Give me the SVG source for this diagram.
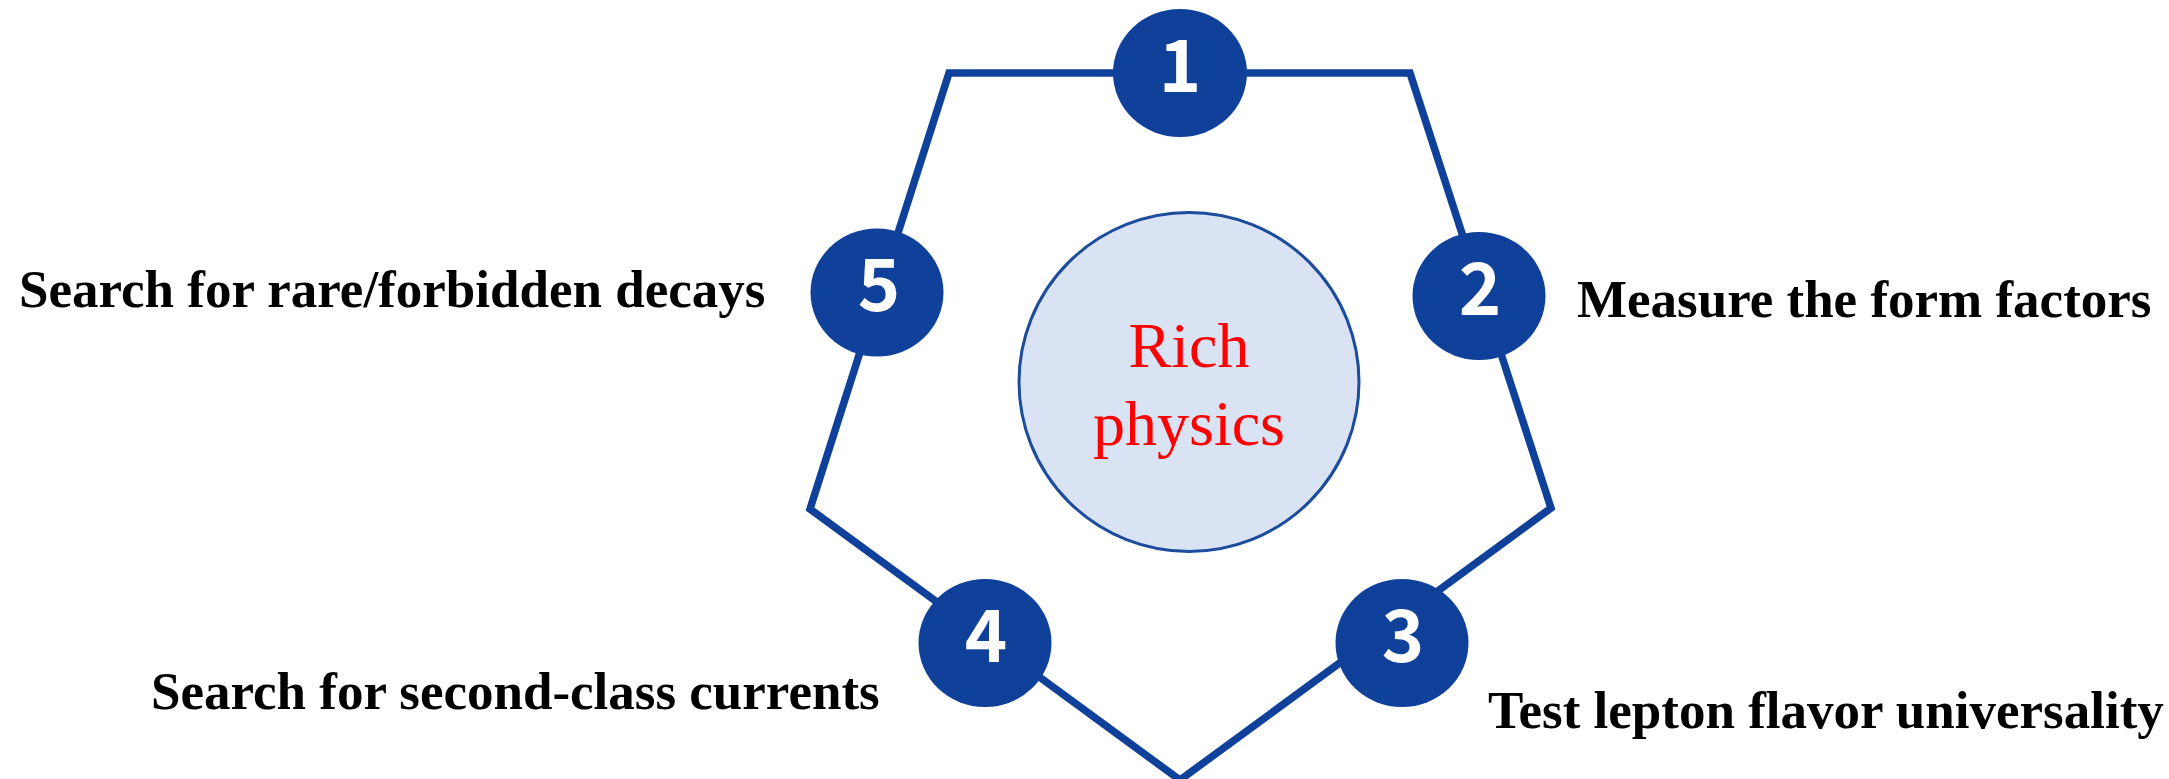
<svg xmlns="http://www.w3.org/2000/svg" width="2169" height="779" viewBox="0 0 2169 779">
  <style>
    .edge { fill: none; stroke: #10419A; stroke-width: 7.5; stroke-linejoin: miter; }
    .badge { fill: #10419A; }
    .num { fill: #FFFFFF; font-family: "Noto Sans CJK KR", "Open Sans", sans-serif; font-weight: bold; font-size: 72px; text-anchor: middle; }
    .label { fill: #000000; font-family: "Liberation Serif", serif; font-weight: bold; font-size: 53px; }
    .core { fill: #DAE3F3; stroke: #1C4D9C; stroke-width: 3; }
    .coretext { fill: #FF0000; font-family: "Liberation Serif", serif; font-size: 64px; text-anchor: middle; }
  </style>
  <rect width="2169" height="779" fill="#FFFFFF"/>
  <g id="connectors">
    <path class="edge" d="M949,73 L1410,73 L1551,508 L1180,780 L810,509 Z"/>
  </g>
  <g id="center">
    <ellipse class="core" cx="1189" cy="382" rx="170" ry="169.5"/>
    <text class="coretext" x="1189" y="367">Rich</text>
    <text class="coretext" x="1189" y="445">physics</text>
  </g>
  <g id="node1">
    <ellipse class="badge" cx="1180" cy="73" rx="67" ry="64"/>
    <text class="num" x="1180" y="92">1</text>
  </g>
  <g id="node2">
    <ellipse class="badge" cx="1479" cy="296" rx="66.5" ry="64"/>
    <text class="num" x="1480" y="315">2</text>
    <text class="label" x="1577" y="317">Measure the form factors</text>
  </g>
  <g id="node3">
    <ellipse class="badge" cx="1402" cy="643" rx="66.5" ry="64"/>
    <text class="num" x="1403" y="662">3</text>
    <text class="label" x="1488" y="728">Test lepton flavor universality</text>
  </g>
  <g id="node4">
    <ellipse class="badge" cx="985" cy="643" rx="66.5" ry="64"/>
    <text class="num" x="986" y="662">4</text>
    <text class="label" x="151" y="709">Search for second-class currents</text>
  </g>
  <g id="node5">
    <ellipse class="badge" cx="877" cy="292.5" rx="66.5" ry="64"/>
    <text class="num" x="879" y="311">5</text>
    <text class="label" x="19" y="307">Search for rare/forbidden decays</text>
  </g>
</svg>
